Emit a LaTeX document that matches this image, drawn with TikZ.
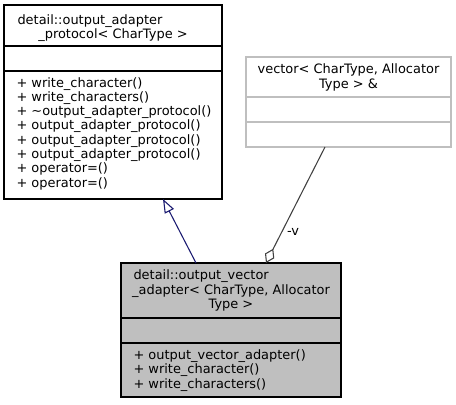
\documentclass[tikz,border=0pt]{standalone}
\usepackage{fontspec}
\setmainfont{DejaVu Sans}
\usepackage{xcolor}
\usetikzlibrary{arrows.meta}

\definecolor{inhblue}{HTML}{191970}
\definecolor{aggrgray}{HTML}{404040}
\definecolor{boxgray}{HTML}{BFBFBF}

\tikzset{
  classbox/.style={draw, inner sep=0pt},
  txt/.style={inner sep=0pt, font=\fontsize{9.7}{11}\selectfont},
  inherit/.style={draw=inhblue, -{Triangle[open, length=10.4pt, width=7.6pt, fill=white]}},
  aggr/.style={draw=aggrgray, -{Diamond[open, length=12pt, width=7.8pt, fill=white]}},
}

\begin{document}
\begin{tikzpicture}[x=0.75pt,y=-0.75pt,line width=0.8pt]
  \useasboundingbox (0,0) rectangle (456,404);
  % base class
  \node[classbox, minimum width=163.5pt, minimum height=145.5pt] (proto) at (113,102) {};
  \draw (4,46) -- (222,46);
  \draw (4,71) -- (222,71);
  \node[txt, anchor=base west] (protoT1) at (17,24) {detail::output\_adapter};
  \node[txt, anchor=base] (protoT2) at (113,38) {\_protocol< CharType >};
  \foreach \m [count=\i from 0] in {write\_character(), write\_characters(),
      \textasciitilde{}output\_adapter\_protocol(), output\_adapter\_protocol(),
      output\_adapter\_protocol(), output\_adapter\_protocol(), operator=(), operator=()}
    \node[txt, anchor=base west] (protoM\i) at (16,87+14.3*\i) {+ \m};

  % member type
  \node[classbox, draw=boxgray, minimum width=153.75pt, minimum height=67.5pt] (vec) at (348.5,102) {};
  \draw[boxgray] (246,97) -- (451,97);
  \draw[boxgray] (246,122) -- (451,122);
  \node[txt, anchor=base] (vecT1) at (348.5,73) {vector< CharType, Allocator};
  \node[txt, anchor=base] (vecT2) at (348.5,88) {Type > \&};

  % derived class
  \node[classbox, fill=boxgray, minimum width=165pt, minimum height=100.5pt] (adapter) at (231,330) {};
  \draw (121,318) -- (341,318);
  \draw (121,343) -- (341,343);
  \node[txt, anchor=base west] (adapterT1) at (133,279) {detail::output\_vector};
  \node[txt, anchor=base] (adapterT2) at (231,294) {\_adapter< CharType, Allocator};
  \node[txt, anchor=base] (adapterT3) at (231,308) {Type >};
  \foreach \m [count=\i from 0] in {output\_vector\_adapter(), write\_character(), write\_characters()}
    \node[txt, anchor=base west] (adapterM\i) at (133,359+14.5*\i) {+ \m};

  % connectors
  \coordinate (inhFrom) at (196,263);
  \coordinate (inhTo) at (163,199);
  \coordinate (aggrFrom) at (325,147);
  \coordinate (aggrTo) at (266,263);
  \draw[inherit] (inhFrom) -- (inhTo);
  \draw[aggr] (aggrFrom) -- (aggrTo);
  \node[txt] (aggrLabel) at (293,232) {-v};
\end{tikzpicture}
\end{document}
